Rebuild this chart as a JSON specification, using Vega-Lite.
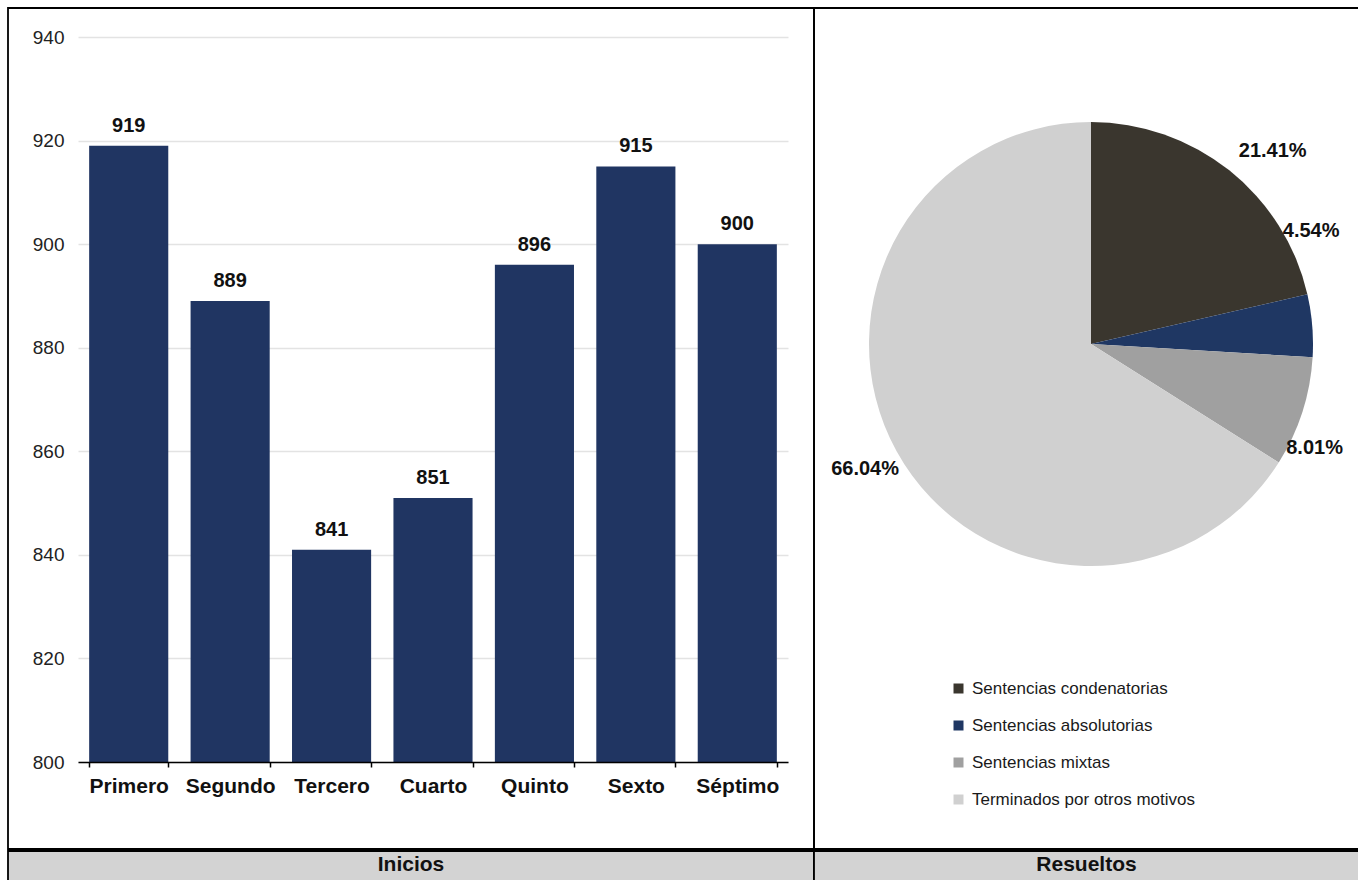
{
  "$schema": "https://vega.github.io/schema/vega-lite/v6.json",
  "padding": {"left": 7, "top": 7, "right": 0, "bottom": 0},
  "background": "white",
  "config": {
    "font": "Liberation Sans",
    "view": {"stroke": "#000", "strokeWidth": 1.8}
  },
  "datasets": {
    "bars": [
      {"grado": "Primero", "v": 919},
      {"grado": "Segundo", "v": 889},
      {"grado": "Tercero", "v": 841},
      {"grado": "Cuarto", "v": 851},
      {"grado": "Quinto", "v": 896},
      {"grado": "Sexto", "v": 915},
      {"grado": "Séptimo", "v": 900}
    ],
    "pie": [
      {"cat": "Sentencias condenatorias", "pct": 0.2141, "n": 1},
      {"cat": "Sentencias absolutorias", "pct": 0.0454, "n": 2},
      {"cat": "Sentencias mixtas", "pct": 0.0801, "n": 3},
      {"cat": "Terminados por otros motivos", "pct": 0.6604, "n": 4}
    ],
    "footL": [{"t": "Inicios"}],
    "footR": [{"t": "Resueltos"}]
  },
  "spacing": 0,
  "resolve": {"scale": {"color": "independent"}, "legend": {"color": "independent"}},
  "vconcat": [
    {
      "spacing": 0,
      "bounds": "flush",
      "resolve": {"scale": {"color": "independent"}, "legend": {"color": "independent"}},
      "hconcat": [
        {
          "width": 806,
          "height": 841,
          "data": {"name": "bars"},
          "encoding": {
            "x": {
              "field": "grado", "type": "nominal", "sort": null,
              "scale": {"range": [70, 780], "paddingInner": 0.22, "paddingOuter": 0.11},
              "axis": {
                "orient": "bottom", "offset": -87, "title": null, "labelAngle": 0,
                "labelFontSize": 21, "labelFontWeight": "bold", "labelColor": "#111",
                "labelPadding": 8, "domainColor": "#000", "domainWidth": 1.5,
                "tickBand": "extent", "tickColor": "#000", "tickSize": 5, "tickWidth": 1.5,
                "grid": false, "zindex": 1
              }
            },
            "y": {
              "field": "v", "type": "quantitative",
              "scale": {"domain": [800, 940], "range": [754, 29], "nice": false, "zero": false},
              "axis": {
                "orient": "left", "offset": -70, "title": null,
                "values": [800, 820, 840, 860, 880, 900, 920, 940],
                "domain": false, "ticks": false, "grid": true,
                "gridColor": "#e3e3e3", "gridWidth": 1.5,
                "labelFontSize": 19, "labelColor": "#222", "labelPadding": 14
              }
            }
          },
          "layer": [
            {"mark": {"type": "bar", "color": "#203562"}, "encoding": {"y2": {"datum": 800}}},
            {
              "mark": {"type": "text", "fontWeight": "bold", "fontSize": 20, "dy": -14, "baseline": "alphabetic", "color": "#111"},
              "encoding": {"text": {"field": "v", "type": "quantitative"}}
            }
          ]
        },
        {
          "width": 545,
          "height": 841,
          "data": {"name": "pie"},
          "encoding": {
            "theta": {"field": "pct", "type": "quantitative", "stack": true},
            "order": {"field": "n", "type": "quantitative"},
            "x": {"value": 277},
            "y": {"value": 336}
          },
          "layer": [
            {
              "mark": {"type": "arc", "outerRadius": 222},
              "encoding": {
                "color": {
                  "field": "cat", "type": "nominal",
                  "scale": {
                    "domain": ["Sentencias condenatorias", "Sentencias absolutorias", "Sentencias mixtas", "Terminados por otros motivos"],
                    "range": ["#3a362e", "#1f3763", "#a0a0a0", "#d0d0d0"]
                  },
                  "legend": {
                    "orient": "none", "legendX": 136, "legendY": 672, "title": null,
                    "symbolType": "square", "symbolSize": 100, "symbolStrokeWidth": 0,
                    "labelFontSize": 17, "labelColor": "#1a1a1a", "rowPadding": 19, "labelOffset": 5,
                    "labelLimit": 0
                  }
                }
              }
            },
            {
              "mark": {"type": "text", "radius": 258, "fontSize": 20, "fontWeight": "bold", "color": "#111", "dx": 21, "dy": 9},
              "encoding": {
                "detail": {"field": "cat"},
                "text": {"condition": {"test": "datum.cat === 'Sentencias condenatorias'", "field": "pct", "format": ".2%"}, "value": ""}
              }
            },
            {
              "mark": {"type": "text", "radius": 240, "fontSize": 20, "fontWeight": "bold", "color": "#111", "dx": -19, "dy": -93},
              "encoding": {
                "detail": {"field": "cat"},
                "text": {"condition": {"test": "datum.cat === 'Sentencias absolutorias'", "field": "pct", "format": ".2%"}, "value": ""}
              }
            },
            {
              "mark": {"type": "text", "radius": 258, "fontSize": 20, "fontWeight": "bold", "color": "#111", "dx": -22, "dy": 25},
              "encoding": {
                "detail": {"field": "cat"},
                "text": {"condition": {"test": "datum.cat === 'Sentencias mixtas'", "field": "pct", "format": ".2%"}, "value": ""}
              }
            },
            {
              "mark": {"type": "text", "radius": 258, "fontSize": 20, "fontWeight": "bold", "color": "#111"},
              "encoding": {
                "detail": {"field": "cat"},
                "text": {"condition": {"test": "datum.cat === 'Terminados por otros motivos'", "field": "pct", "format": ".2%"}, "value": ""}
              }
            }
          ]
        }
      ]
    },
    {
      "spacing": 0,
      "bounds": "flush",
      "hconcat": [
        {
          "width": 806, "height": 32,
          "data": {"name": "footL"},
          "view": {"fill": "#d3d3d3", "stroke": "#000", "strokeWidth": 1.8},
          "mark": {"type": "text", "fontSize": 21, "fontWeight": "bold", "color": "#111", "dy": -2},
          "encoding": {"text": {"field": "t"}}
        },
        {
          "width": 545, "height": 32,
          "data": {"name": "footR"},
          "view": {"fill": "#d3d3d3", "stroke": "#000", "strokeWidth": 1.8},
          "mark": {"type": "text", "fontSize": 21, "fontWeight": "bold", "color": "#111", "dy": -2},
          "encoding": {"text": {"field": "t"}}
        }
      ]
    }
  ]
}
